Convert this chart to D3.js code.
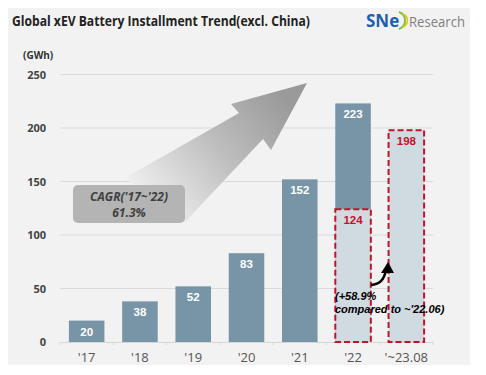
<!DOCTYPE html>
<html>
<head>
<meta charset="utf-8">
<script src="https://cdn.jsdelivr.net/npm/d3@7"></script>
<style>
  body { margin: 0; background: #fff; }
  svg { display: block; }
</style>
</head>
<body>
<svg id="drawing_region"></svg>
<script>
// chart data
const categories = ["'17", "'18", "'19", "'20", "'21", "'22", "'~23.08"];
const installValues = [20, 38, 52, 83, 152, 223, null];
const partialValues = [null, null, null, null, null, 124, 198];
const yTicks = [0, 50, 100, 150, 200, 250];

const W = 486, H = 375;
const svg = d3.select('#drawing_region')
    .attr('width', W)
    .attr('height', H);

// panel background
svg.append('rect')
    .attr('x', 8).attr('y', 8)
    .attr('width', 462).attr('height', 357)
    .attr('fill', '#f2f2f2');

// title
svg.append('text')
    .attr('x', 12).attr('y', 26)
    .attr('font-family', 'Open Sans, sans-serif')
    .attr('font-weight', 'bold')
    .attr('font-size', 13.5)
    .attr('textLength', 298)
    .attr('lengthAdjust', 'spacingAndGlyphs')
    .attr('fill', '#222')
    .text('Global xEV Battery Installment Trend(excl. China)');

// logo
const logo = svg.append('g').attr('transform', 'translate(366, 27)');
logo.append('text')
    .attr('x', 0).attr('y', 0)
    .attr('font-family', 'Open Sans, sans-serif')
    .attr('font-weight', 'bold')
    .attr('font-size', 17)
    .attr('fill', '#1f5fae')
    .text('SNe');
logo.append('path')
    .attr('d', 'M33,-15 A9,9 0 0 1 33,2')
    .attr('fill', 'none').attr('stroke', '#7cc242').attr('stroke-width', 2);
logo.append('path')
    .attr('d', 'M37,-13 A7,7 0 0 1 37,0')
    .attr('fill', 'none').attr('stroke', '#f2c500').attr('stroke-width', 1.6);
logo.append('text')
    .attr('x', 43).attr('y', 0)
    .attr('font-family', 'Open Sans, sans-serif')
    .attr('font-size', 14)
    .attr('textLength', 56)
    .attr('lengthAdjust', 'spacingAndGlyphs')
    .attr('fill', '#7f7f7f')
    .text('Research');

// unit
svg.append('text')
    .attr('x', 23).attr('y', 59)
    .attr('font-family', 'Open Sans, sans-serif')
    .attr('font-weight', 'bold')
    .attr('font-size', 10)
    .attr('fill', '#333')
    .text('(GWh)');

// scales
const x = d3.scaleBand()
    .domain(categories)
    .range([60, 433])
    .paddingInner(0.333)
    .paddingOuter(0.167);

const y = d3.scaleLinear()
    .domain([0, 250])
    .range([342, 74.5]);

// gridlines
svg.append('g')
    .selectAll('line')
    .data(yTicks.slice(1))
    .join('line')
    .attr('x1', 60).attr('x2', 433)
    .attr('y1', d => y(d)).attr('y2', d => y(d))
    .attr('stroke', '#dadada')
    .attr('stroke-width', 1);

// y axis labels
const yAxis = d3.axisLeft(y).tickValues(yTicks).tickSize(0).tickPadding(0);
const yg = svg.append('g')
    .attr('transform', 'translate(46, 0)')
    .call(yAxis);
yg.select('.domain').remove();
yg.selectAll('text')
    .attr('font-family', 'Open Sans, sans-serif')
    .attr('font-weight', 'bold')
    .attr('font-size', 11)
    .attr('fill', '#444');

// x axis
const xAxis = d3.axisBottom(x).tickSize(0).tickPadding(11);
const xg = svg.append('g')
    .attr('transform', `translate(0, ${y(0)})`)
    .call(xAxis);
xg.select('.domain').attr('stroke', '#d6d6d6');
xg.selectAll('text')
    .attr('font-family', 'Open Sans, sans-serif')
    .attr('font-size', 13)
    .attr('fill', '#555');
// small ticks at band edges
xg.selectAll('.edge')
    .data(categories.concat(['end']))
    .join('line')
    .attr('class', 'edge')
    .attr('x1', (d, i) => 60 + i * x.step()).attr('x2', (d, i) => 60 + i * x.step())
    .attr('y1', 0).attr('y2', 3)
    .attr('stroke', '#d6d6d6');

// big gradient arrow
const defs = svg.append('defs');
const grad = defs.append('linearGradient')
    .attr('id', 'arrowGrad')
    .attr('gradientUnits', 'userSpaceOnUse')
    .attr('x1', 150).attr('y1', 215)
    .attr('x2', 285).attr('y2', 100);
grad.append('stop').attr('offset', 0).attr('stop-color', '#f2f2f2');
grad.append('stop').attr('offset', 0.55).attr('stop-color', '#bdbdbd');
grad.append('stop').attr('offset', 1).attr('stop-color', '#9a9a9a');

svg.append('path')
    .attr('d', 'M307,83 L231,104 L239,113 L125,178 L185,222 L263,139 L271,150 Z')
    .attr('fill', 'url(#arrowGrad)');

// CAGR box
svg.append('rect')
    .attr('x', 73).attr('y', 185)
    .attr('width', 112).attr('height', 38)
    .attr('rx', 5)
    .attr('fill', '#b4b4b4');
svg.append('text')
    .attr('x', 129).attr('y', 201)
    .attr('text-anchor', 'middle')
    .attr('font-family', 'Open Sans, sans-serif')
    .attr('font-style', 'italic')
    .attr('font-weight', 'bold')
    .attr('font-size', 12)
    .attr('fill', '#404040')
    .text("CAGR('17~'22)");
svg.append('text')
    .attr('x', 129).attr('y', 217)
    .attr('text-anchor', 'middle')
    .attr('font-family', 'Open Sans, sans-serif')
    .attr('font-style', 'italic')
    .attr('font-weight', 'bold')
    .attr('font-size', 12)
    .attr('fill', '#404040')
    .text('61.3%');

// bars
const bars = svg.append('g');
const installData = categories.map((c, i) => ({ c: c, v: installValues[i] })).filter(d => d.v != null);
const partialData = categories.map((c, i) => ({ c: c, v: partialValues[i] })).filter(d => d.v != null);

bars.selectAll('rect.main')
    .data(installData)
    .join('rect')
    .attr('class', 'main')
    .attr('x', d => x(d.c))
    .attr('y', d => y(d.v))
    .attr('width', x.bandwidth())
    .attr('height', d => y(0) - y(d.v))
    .attr('fill', '#7795a7');

bars.selectAll('rect.part')
    .data(partialData)
    .join('rect')
    .attr('class', 'part')
    .attr('x', d => x(d.c))
    .attr('y', d => y(d.v))
    .attr('width', x.bandwidth())
    .attr('height', d => y(0) - y(d.v))
    .attr('fill', '#d0dae1')
    .attr('stroke', '#c0142a')
    .attr('stroke-width', 2)
    .attr('stroke-dasharray', '6,3');

// value labels
bars.selectAll('text.mainlab')
    .data(installData)
    .join('text')
    .attr('class', 'mainlab')
    .attr('x', d => x(d.c) + x.bandwidth() / 2)
    .attr('y', d => y(d.v) + 15)
    .attr('text-anchor', 'middle')
    .attr('font-family', 'Liberation Sans, Arial, sans-serif')
    .attr('font-weight', 'bold')
    .attr('font-size', 11.5)
    .attr('fill', '#fff')
    .text(d => d.v);

bars.selectAll('text.partlab')
    .data(partialData)
    .join('text')
    .attr('class', 'partlab')
    .attr('x', d => x(d.c) + x.bandwidth() / 2)
    .attr('y', d => y(d.v) + 15)
    .attr('text-anchor', 'middle')
    .attr('font-family', 'Liberation Sans, Arial, sans-serif')
    .attr('font-weight', 'bold')
    .attr('font-size', 11.5)
    .attr('fill', '#c0142a')
    .text(d => d.v);

// growth annotation arrow
svg.append('path')
    .attr('d', 'M371,285 C380,284 384,280 386,270')
    .attr('fill', 'none')
    .attr('stroke', '#000')
    .attr('stroke-width', 2.5);
svg.append('path')
    .attr('d', 'M388,262 L381,273 L394,273 Z')
    .attr('fill', '#000');

svg.append('text')
    .attr('x', 335).attr('y', 300)
    .attr('font-family', 'Liberation Sans, Arial, sans-serif')
    .attr('font-style', 'italic')
    .attr('font-weight', 'bold')
    .attr('font-size', 11)
    .attr('fill', '#000')
    .text('(+58.9%');
svg.append('text')
    .attr('x', 335).attr('y', 313)
    .attr('font-family', 'Liberation Sans, Arial, sans-serif')
    .attr('font-style', 'italic')
    .attr('font-weight', 'bold')
    .attr('font-size', 11)
    .attr('fill', '#000')
    .text("compared to ~'22.06)");
</script>
</body>
</html>
